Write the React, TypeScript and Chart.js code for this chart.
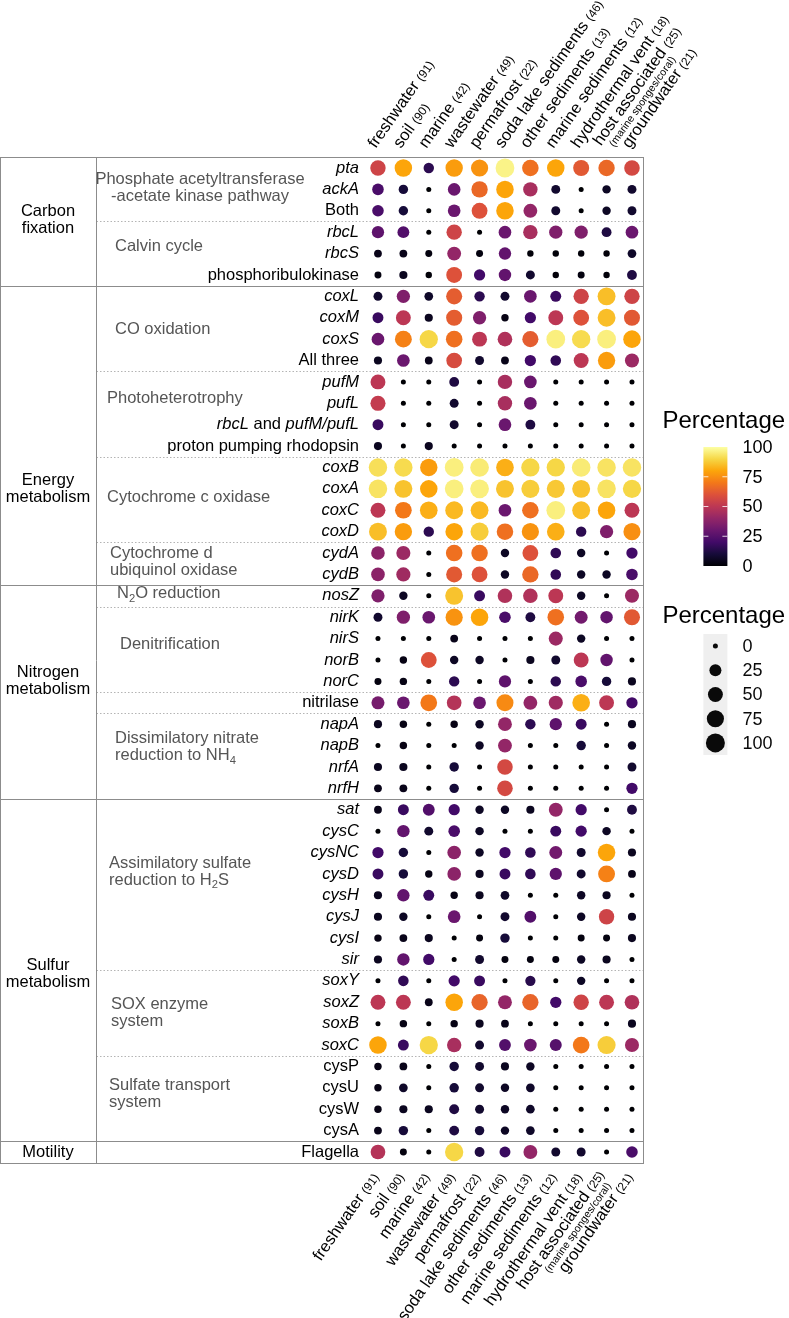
import React, { useEffect, useRef } from 'react';
import { Chart, registerables } from 'chart.js';

Chart.register(...registerables);

// ---------- data ----------
const environments = ['freshwater', 'soil', 'marine', 'wastewater', 'permafrost', 'soda lake sediments', 'other sediments', 'marine sediments', 'hydrothermal vent', 'host associated', 'groundwater'];
const environmentCounts = [91, 90, 42, 49, 22, 46, 13, 12, 18, 25, 21];
const environmentNotes = ['', '', '', '', '', '', '', '', '', '(marine sponges/coral)', ''];

const genes = ['pta', 'ackA', 'Both', 'rbcL', 'rbcS', 'phosphoribulokinase',
  'coxL', 'coxM', 'coxS', 'All three', 'pufM', 'pufL', 'rbcL and pufM/pufL', 'proton pumping rhodopsin', 'coxB', 'coxA', 'coxC', 'coxD', 'cydA', 'cydB',
  'nosZ', 'nirK', 'nirS', 'norB', 'norC', 'nitrilase', 'napA', 'napB', 'nrfA', 'nrfH',
  'sat', 'cysC', 'cysNC', 'cysD', 'cysH', 'cysJ', 'cysI', 'sir', 'soxY', 'soxZ', 'soxB', 'soxC', 'cysP', 'cysU', 'cysW', 'cysA',
  'Flagella'];
const plainGenes = ['Both', 'phosphoribulokinase', 'All three', 'proton pumping rhodopsin', 'nitrilase', 'cysP', 'cysU', 'cysW', 'cysA', 'Flagella'];

// columns: freshwater, soil, marine, wastewater, permafrost, soda lake, other sed., marine sed., hydrothermal, host, groundwater
const carbonValues = [
  [55, 80, 15, 78, 76, 97, 68, 80, 62, 66, 57],
  [22, 10, 0, 30, 66, 80, 45, 8, 0, 6, 8],
  [22, 10, 0, 30, 60, 80, 40, 8, 0, 6, 8],
  [27, 24, 0, 55, 0, 30, 45, 35, 35, 12, 30],
  [4, 4, 2, 40, 2, 28, 1, 1, 1, 1, 7],
  [2, 5, 1, 60, 20, 28, 8, 1, 2, 1, 12],
];
const energyValues = [
  [8, 35, 7, 63, 15, 8, 30, 18, 55, 85, 55],
  [18, 50, 5, 63, 35, 3, 20, 50, 60, 85, 62],
  [30, 72, 90, 68, 50, 47, 63, 96, 91, 96, 80],
  [5, 30, 4, 58, 8, 4, 20, 16, 50, 78, 42],
  [50, 0, 0, 12, 0, 45, 30, 0, 0, 0, 0],
  [52, 0, 0, 8, 0, 45, 30, 0, 0, 0, 0],
  [18, 0, 0, 8, 0, 30, 12, 0, 0, 0, 0],
  [5, 0, 5, 0, 0, 0, 0, 0, 0, 0, 0],
  [92, 91, 78, 96, 95, 82, 90, 90, 95, 93, 93],
  [93, 86, 80, 96, 96, 86, 88, 87, 86, 93, 90],
  [50, 70, 82, 84, 84, 30, 68, 96, 85, 80, 50],
  [85, 78, 15, 80, 88, 68, 76, 82, 15, 35, 75],
  [38, 42, 0, 68, 68, 6, 60, 16, 6, 0, 20],
  [38, 43, 0, 62, 60, 6, 66, 16, 6, 6, 22],
];
const nitrogenValues = [
  [35, 6, 0, 86, 18, 47, 47, 50, 6, 0, 42],
  [8, 35, 30, 76, 80, 22, 12, 68, 32, 28, 62],
  [0, 0, 0, 4, 0, 0, 0, 42, 6, 0, 0],
  [0, 3, 60, 6, 6, 0, 5, 8, 50, 28, 0],
  [2, 3, 0, 15, 0, 27, 0, 15, 22, 10, 5],
  [33, 30, 70, 48, 30, 74, 40, 43, 82, 50, 20],
  [5, 3, 0, 3, 6, 40, 15, 27, 18, 0, 5],
  [0, 3, 0, 0, 6, 40, 0, 0, 10, 0, 6],
  [5, 5, 0, 10, 0, 57, 0, 0, 0, 0, 8],
  [4, 4, 0, 10, 0, 57, 0, 0, 0, 0, 20],
];
const sulfurValues = [
  [4, 18, 24, 20, 6, 6, 5, 40, 20, 0, 12],
  [0, 28, 8, 22, 6, 0, 0, 18, 20, 6, 0],
  [20, 10, 0, 38, 6, 20, 16, 32, 8, 80, 5],
  [18, 10, 3, 38, 5, 18, 16, 27, 8, 72, 4],
  [5, 28, 18, 3, 5, 7, 0, 0, 6, 5, 0],
  [5, 6, 0, 30, 0, 8, 24, 0, 6, 55, 5],
  [3, 4, 5, 0, 2, 10, 0, 0, 2, 2, 5],
  [5, 28, 20, 0, 8, 2, 2, 2, 6, 5, 0],
  [0, 16, 0, 20, 18, 0, 14, 0, 6, 0, 0],
  [50, 50, 4, 80, 65, 40, 65, 20, 55, 50, 47],
  [0, 3, 0, 3, 5, 4, 0, 0, 0, 0, 5],
  [80, 18, 90, 45, 8, 24, 30, 25, 70, 88, 42],
  [3, 4, 0, 10, 8, 5, 6, 0, 0, 0, 0],
  [3, 7, 0, 10, 8, 6, 7, 0, 0, 0, 0],
  [3, 5, 5, 12, 8, 6, 7, 0, 0, 0, 0],
  [4, 10, 0, 12, 10, 6, 7, 0, 0, 0, 0],
];
const motilityValues = [
  [48, 2, 0, 90, 12, 18, 40, 8, 8, 0, 22],
];

const categoryLabels = [['Carbon', 'fixation'], ['Energy', 'metabolism'], ['Nitrogen', 'metabolism'], ['Sulfur', 'metabolism'], ['Motility']];
const categoryRows = [2.43, 15, 23.98, 37.66, 46];
const categoryStarts = [6, 20, 30, 46];
const subgroupStarts = [3, 10, 14, 18, 21, 25, 26, 38, 42];

const pathwayLabels = [
  ['Phosphate acetyltransferase', '-acetate kinase pathway'],
  ['Calvin cycle'],
  ['CO oxidation'],
  ['Photoheterotrophy'],
  ['Cytochrome c oxidase'],
  ['Cytochrome d', 'ubiquinol oxidase'],
  ['N_2O reduction'],
  ['Denitrification'],
  ['Dissimilatory nitrate', 'reduction to NH_4'],
  ['Assimilatory sulfate', 'reduction to H_2S'],
  ['SOX enzyme', 'system'],
  ['Sulfate transport', 'system'],
];
const pathwayRows = [0.91, 3.69, 7.57, 10.75, 15.38, 18.4, 19.9, 22.25, 27.07, 32.9, 39.48, 43.3];
const pathwayX = [200, 115, 115, 107, 107, 110, 117, 120, 115, 109, 111, 109];

const legendTicks = [0, 25, 50, 75, 100];

// ---------- helpers ----------
const FAMILY = "'Liberation Sans', Arial, Helvetica, sans-serif";
const INFERNO = ['#000004', '#160b39', '#420a68', '#6a176e', '#932667', '#bc3754', '#dd513a', '#f37819', '#fca50a', '#f6d746', '#fcffa4'];

function hexRgb(h: string) {
  return [parseInt(h.slice(1, 3), 16), parseInt(h.slice(3, 5), 16), parseInt(h.slice(5, 7), 16)];
}
function infernoColor(v: number) {
  const t = Math.max(0, Math.min(1, v / 100)) * 10;
  const i = Math.min(9, Math.floor(t));
  const f = t - i;
  const a = hexRgb(INFERNO[i]);
  const b = hexRgb(INFERNO[i + 1]);
  const c = a.map((x, k) => Math.round(x + (b[k] - x) * f));
  return `rgb(${c[0]},${c[1]},${c[2]})`;
}
function sizeFor(v: number) {
  return 2.5 + 7 * Math.sqrt(Math.max(0, v) / 100);
}

type Seg = { text: string; italic?: boolean; sub?: boolean };
function parseMarkup(s: string): Seg[] {
  const segs: Seg[] = [];
  const re = /_(\d)/g;
  let last = 0;
  let m: RegExpExecArray | null;
  while ((m = re.exec(s))) {
    if (m.index > last) segs.push({ text: s.slice(last, m.index) });
    segs.push({ text: m[1], sub: true });
    last = m.index + 2;
  }
  if (last < s.length) segs.push({ text: s.slice(last) });
  return segs;
}
function geneSegs(name: string): Seg[] {
  if (plainGenes.includes(name)) return [{ text: name }];
  if (name.includes(' and ')) {
    const [a, b] = name.split(' and ');
    return [{ text: a, italic: true }, { text: ' and ' }, { text: b, italic: true }];
  }
  return [{ text: name, italic: true }];
}
function drawRich(ctx: CanvasRenderingContext2D, segs: Seg[], x: number, y: number, size: number, align: 'left' | 'right' | 'center') {
  const fontOf = (s: Seg) => `${s.italic ? 'italic ' : ''}${s.sub ? size * 0.68 : size}px ${FAMILY}`;
  let total = 0;
  const widths = segs.map((s) => {
    ctx.font = fontOf(s);
    const w = ctx.measureText(s.text).width;
    total += w;
    return w;
  });
  let cx = align === 'right' ? x - total : align === 'center' ? x - total / 2 : x;
  ctx.textAlign = 'left';
  segs.forEach((s, i) => {
    ctx.font = fontOf(s);
    ctx.fillText(s.text, cx, s.sub ? y + size * 0.3 : y);
    cx += widths[i];
  });
}

const tablePlugin = {
  id: 'tableDecor',
  beforeDatasetsDraw(chart: any) {
    const { ctx, chartArea, scales } = chart;
    const ys = scales.y;
    const left = 0.5;
    const right = Math.round(chartArea.right) + 0.5;
    const divider = 96.5;
    const top = Math.round(ys.getPixelForValue(-0.5)) + 0.5;
    const bottom = Math.round(ys.getPixelForValue(genes.length - 0.5)) + 0.5;
    ctx.save();
    ctx.lineWidth = 1;
    ctx.strokeStyle = '#b4b4b4';
    ctx.setLineDash([1.5, 2]);
    for (const r of subgroupStarts) {
      const y = Math.round(ys.getPixelForValue(r - 0.5)) + 0.5;
      ctx.beginPath(); ctx.moveTo(divider, y); ctx.lineTo(right, y); ctx.stroke();
    }
    ctx.setLineDash([]);
    ctx.strokeStyle = '#8c8c8c';
    for (const r of categoryStarts) {
      const y = Math.round(ys.getPixelForValue(r - 0.5)) + 0.5;
      ctx.beginPath(); ctx.moveTo(left, y); ctx.lineTo(right, y); ctx.stroke();
    }
    ctx.strokeRect(left, top, right - left, bottom - top);
    ctx.beginPath(); ctx.moveTo(divider, top); ctx.lineTo(divider, bottom); ctx.stroke();
    ctx.restore();
  },
  afterDatasetsDraw(chart: any) {
    const { ctx, chartArea, scales } = chart;
    const xs = scales.x;
    const ys = scales.y;
    const size = 16.5;
    ctx.save();
    ctx.textBaseline = 'middle';

    // gene labels
    ctx.fillStyle = '#000';
    genes.forEach((g, i) => {
      drawRich(ctx, geneSegs(g), chartArea.left - 5, ys.getPixelForValue(i), size, 'right');
    });

    // category labels
    categoryLabels.forEach((lines, k) => {
      const cy = ys.getPixelForValue(categoryRows[k]);
      lines.forEach((ln, j) => {
        const y = cy + (j - (lines.length - 1) / 2) * 17;
        drawRich(ctx, [{ text: ln }], 48, y, size, 'center');
      });
    });

    // pathway labels
    ctx.fillStyle = '#555';
    pathwayLabels.forEach((lines, k) => {
      const cy = ys.getPixelForValue(pathwayRows[k]);
      lines.forEach((ln, j) => {
        const y = cy + (j - (lines.length - 1) / 2) * 17;
        drawRich(ctx, parseMarkup(ln), pathwayX[k], y, size, k === 0 ? 'center' : 'left');
      });
    });

    // environment labels (top and bottom)
    ctx.fillStyle = '#000';
    const ang = (-55 * Math.PI) / 180;
    const topY = ys.getPixelForValue(-0.5);
    const botY = ys.getPixelForValue(genes.length - 0.5);
    environments.forEach((name, i) => {
      const x = xs.getPixelForValue(i);
      const note = environmentNotes[i];
      const mainY = note ? -4 : 0;
      const countText = `(${environmentCounts[i]})`;
      // top
      ctx.save();
      ctx.translate(x - 6, topY - 11);
      ctx.rotate(ang);
      ctx.textAlign = 'left';
      ctx.font = `${size}px ${FAMILY}`;
      ctx.fillText(name + ' ', 0, mainY);
      const w = ctx.measureText(name + ' ').width;
      ctx.font = `12px ${FAMILY}`;
      ctx.fillText(countText, w, mainY + 1);
      if (note) {
        ctx.font = `10.5px ${FAMILY}`;
        ctx.fillText(note, 7, 9);
      }
      ctx.restore();
      // bottom
      ctx.save();
      ctx.translate(x - 2, botY + 12);
      ctx.rotate(ang);
      ctx.textAlign = 'right';
      ctx.font = `12px ${FAMILY}`;
      const cw = ctx.measureText(countText).width;
      ctx.fillText(countText, 0, mainY + 1);
      if (note) {
        ctx.font = `10.5px ${FAMILY}`;
        ctx.fillText(note, -5, 9);
      }
      ctx.font = `${size}px ${FAMILY}`;
      ctx.fillText(name + ' ', -cw, mainY);
      ctx.restore();
    });

    // legends
    const lx = chartArea.right + 60; // key column left
    const kw = 24;
    ctx.textAlign = 'left';
    ctx.fillStyle = '#000';
    ctx.textBaseline = 'alphabetic';
    ctx.font = `24px ${FAMILY}`;
    ctx.fillText('Percentage', lx - 41, 428);
    const barTop = 447;
    const barBot = 566;
    const grad = ctx.createLinearGradient(0, barBot, 0, barTop);
    for (let i = 0; i <= 20; i++) grad.addColorStop(i / 20, infernoColor(i * 5));
    ctx.fillStyle = grad;
    ctx.fillRect(lx, barTop, kw, barBot - barTop);
    ctx.strokeStyle = 'rgba(255,255,255,0.8)';
    ctx.lineWidth = 1;
    ctx.textBaseline = 'middle';
    ctx.font = `18px ${FAMILY}`;
    legendTicks.forEach((t) => {
      const y = barBot - ((barBot - barTop) * t) / 100;
      if (t > 0 && t < 100) {
        ctx.beginPath(); ctx.moveTo(lx, y); ctx.lineTo(lx + 5, y); ctx.moveTo(lx + kw - 5, y); ctx.lineTo(lx + kw, y); ctx.stroke();
      }
      ctx.fillStyle = '#000';
      ctx.fillText(String(t), lx + 39, y + 1);
    });

    ctx.textBaseline = 'alphabetic';
    ctx.font = `24px ${FAMILY}`;
    ctx.fillText('Percentage', lx - 41, 623);
    const keyTop = 634;
    const keyH = 24.2;
    ctx.fillStyle = '#efefef';
    ctx.fillRect(lx, keyTop, kw, keyH * legendTicks.length);
    ctx.textBaseline = 'middle';
    ctx.font = `18px ${FAMILY}`;
    legendTicks.forEach((t, i) => {
      const y = keyTop + keyH * (i + 0.5);
      ctx.fillStyle = '#0a0a0a';
      ctx.beginPath(); ctx.arc(lx + kw / 2, y, sizeFor(t), 0, Math.PI * 2); ctx.fill();
      ctx.fillText(String(t), lx + 39, y + 1);
    });
    ctx.restore();
  },
};

export default function App() {
  const ref = useRef<HTMLCanvasElement>(null);
  useEffect(() => {
    const canvas = ref.current!;
    const allValues = [...carbonValues, ...energyValues, ...nitrogenValues, ...sulfurValues, ...motilityValues];
    const points: { x: number; y: number; r: number; v: number }[] = [];
    allValues.forEach((row, r) => row.forEach((v, c) => points.push({ x: c, y: r, r: sizeFor(v), v })));
    const W = 789;
    const H = 1318;
    const chart = new Chart(canvas, {
      type: 'bubble',
      data: {
        datasets: [{
          data: points as any,
          backgroundColor: (c: any) => (c.raw ? infernoColor(c.raw.v) : '#000'),
          borderWidth: 0,
        }],
      },
      options: {
        responsive: false,
        animation: false,
        devicePixelRatio: 1,
        events: [],
        layout: { padding: { left: 364, right: W - 643.4, top: 157.3, bottom: H - 1162.7 } },
        scales: {
          x: { type: 'linear', min: -0.55, max: 10.45, display: false },
          y: { type: 'linear', min: -0.5, max: genes.length - 0.5, reverse: true, display: false },
        },
        plugins: { legend: { display: false }, tooltip: { enabled: false } },
      } as any,
      plugins: [tablePlugin as any],
    });
    return () => chart.destroy();
  }, []);
  return (
    <div style={{ position: 'absolute', left: 0, top: 0, width: 789, height: 1318, background: '#fff' }}>
      <canvas ref={ref} width={789} height={1318} style={{ display: 'block', width: 789, height: 1318 }} />
    </div>
  );
}
